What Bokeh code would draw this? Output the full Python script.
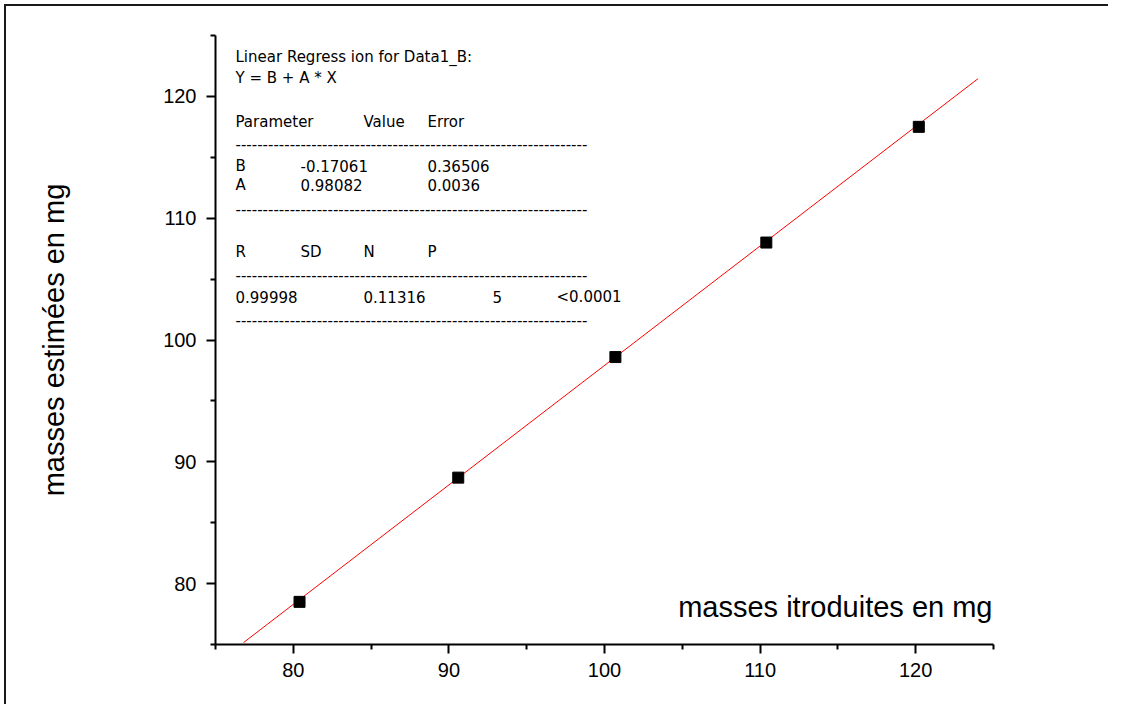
from bokeh.plotting import figure
from bokeh.models import FixedTicker, Label, Range1d
from bokeh.embed import file_html
from bokeh.resources import INLINE

# ---- data ----
x_introduced = [80.4, 90.6, 100.7, 110.4, 120.2]
y_estimated = [78.5, 88.7, 98.6, 108.0, 117.5]
fit_B = -0.17061
fit_A = 0.98082
fit_x_range = [76.8, 124.0]

x_ticks = [80, 90, 100, 110, 120]
y_ticks = [80, 90, 100, 110, 120]
minor = [75, 85, 95, 105, 115, 125]

x_title = "masses itroduites en mg"
y_title = "masses estimées en mg"

# regression report lines: (text, column px, row px) in page pixels
report = [
    ("Linear Regress ion for Data1_B:", 235, 56),
    ("Y = B + A * X", 235, 77),
    ("Parameter", 235, 121), ("Value", 363, 121), ("Error", 427, 121),
    ("B", 235, 165), ("-0.17061", 300, 165), ("0.36506", 427, 165),
    ("A", 235, 184), ("0.98082", 300, 184), ("0.0036", 427, 184),
    ("R", 235, 251), ("SD", 300, 251), ("N", 363, 251), ("P", 427, 251),
    ("0.99998", 235, 296), ("0.11316", 363, 296), ("5", 492, 296), ("<0.0001", 556, 296),
]
dash_rows = [143, 208, 274, 319]

FONT = "Liberation Sans"
REPORT_FONT = "DejaVu Sans"

p = figure(width=1104, height=700, output_backend="svg", toolbar_location=None,
           x_range=Range1d(75, 125), y_range=Range1d(75, 125))
p.min_border_left = 209
p.min_border_right = 117
p.min_border_top = 29
p.min_border_bottom = 62
p.outline_line_color = None
p.xgrid.visible = False
p.ygrid.visible = False
p.styles = {"border-left": "2px solid #1a1a1a", "border-top": "2px solid #1a1a1a",
            "margin-left": "4px", "margin-top": "4px"}

for ax, ticks in ((p.xaxis[0], x_ticks), (p.yaxis[0], y_ticks)):
    ax.ticker = FixedTicker(ticks=ticks, minor_ticks=minor)
    ax.axis_line_width = 2
    ax.axis_line_color = "black"
    ax.major_tick_line_width = 2
    ax.minor_tick_line_width = 2
    ax.major_tick_out = 9
    ax.major_tick_in = 0
    ax.minor_tick_out = 5
    ax.minor_tick_in = 0
    ax.major_label_text_font = FONT
    ax.major_label_text_font_size = "20px"
    ax.major_label_text_color = "black"

p.xaxis.major_label_standoff = 9
p.yaxis.major_label_standoff = 10
p.yaxis.axis_label = y_title
p.yaxis.axis_label_text_font = FONT
p.yaxis.axis_label_text_font_size = "29px"
p.yaxis.axis_label_text_font_style = "normal"
p.yaxis.axis_label_text_color = "black"
p.yaxis.axis_label_standoff = 90

# regression line
fx = fit_x_range
fy = [fit_B + fit_A * v for v in fx]
p.line(fx, fy, line_color="red", line_width=1)

# data points
p.scatter(x_introduced, y_estimated, marker="square", size=11,
          fill_color="black", line_color="black")

FL, FB = 215, 644  # frame left / bottom in page px

def add_text(txt, px, py, size="15px", align="left", font=REPORT_FONT):
    p.add_layout(Label(x=px - FL, y=FB - py, x_units="screen", y_units="screen",
                       text=txt, text_font=font, text_font_size=size,
                       text_color="black", text_align=align, text_baseline="middle"))

for txt, px, py in report:
    add_text(txt, px, py)
for py in dash_rows:
    add_text("-" * 65, 235, py)

add_text(x_title, 992, 606, size="29px", align="right", font=FONT)

open("out.html", "w").write(file_html(p, INLINE))
